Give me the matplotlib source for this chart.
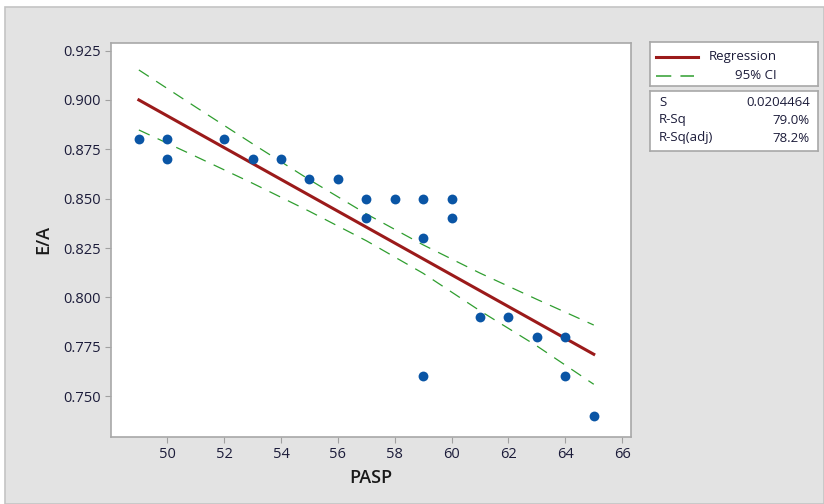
import numpy as np
import matplotlib
matplotlib.use("Agg")
from matplotlib import pyplot as plt
from matplotlib.patches import Rectangle

# data
pasp = [49, 50, 50, 52, 53, 54, 55, 56, 57, 57, 58, 59, 59, 59, 60, 60, 61, 62, 63, 64, 64, 65]
ea = [0.88, 0.88, 0.87, 0.88, 0.87, 0.87, 0.86, 0.86, 0.85, 0.84, 0.85, 0.85, 0.83, 0.76,
      0.85, 0.84, 0.79, 0.79, 0.78, 0.78, 0.76, 0.74]
# fitted line and 95% CI band
fit_x = [49, 65]
fit_y = [0.900, 0.7712]
ci_x = [49, 51, 53, 55, 57, 59, 61, 63, 65]
ci_upper = [0.9152, 0.8964, 0.8778, 0.8596, 0.8423, 0.8266, 0.8123, 0.7990, 0.7860]
ci_lower = [0.8848, 0.8714, 0.8578, 0.8436, 0.8287, 0.8122, 0.7932, 0.7754, 0.7560]
xticks = [50, 52, 54, 56, 58, 60, 62, 64, 66]
yticks = [0.750, 0.775, 0.800, 0.825, 0.850, 0.875, 0.900, 0.925]
stat_names = ["S", "R-Sq", "R-Sq(adj)"]
stat_values = ["0.0204464", "79.0%", "78.2%"]

plt.rcParams['font.family'] = ['Open Sans', 'DejaVu Sans']
txt = '#1c1c3a'
red = '#9b1a1a'
green = '#2f9e2f'
W, H = 824, 504

fig = plt.figure(figsize=(W/100, H/100), dpi=100)
fig.patch.set_facecolor('white')
fig.add_artist(Rectangle((5/W, 0), 1 - 5/W, 1 - 7/H, transform=fig.transFigure,
                         facecolor='#e3e3e3', edgecolor='#c4c4c4', lw=1.2, zorder=-10))

ax = fig.add_axes([111/W, 1 - 437/H, 520/W, (437 - 42.7)/H])
ax.set_facecolor('white')
ax.plot(fit_x, fit_y, color=red, lw=2.2, zorder=3)
ax.plot(ci_x, ci_upper, color=green, lw=0.9, dashes=(9.5, 7), zorder=2)
ax.plot(ci_x, ci_lower, color=green, lw=0.9, dashes=(9.5, 7), zorder=2)
ax.scatter(pasp, ea, s=50, color='#0a55a5', zorder=4, linewidths=0)

ax.set_xlim(48.02, 66.31)
ax.set_ylim(0.7293, 0.929)
ax.set_xticks(xticks)
ax.set_yticks(yticks)
ax.set_yticklabels([f"{v:.3f}" for v in yticks])
ax.tick_params(colors='#a0a0a0', labelcolor=txt, labelsize=10.5, length=4, width=0.8)
for sp in ax.spines.values():
  sp.set_color('#a8a8a8')
  sp.set_linewidth(1.2)
ax.set_xlabel('PASP', fontsize=13, fontweight='semibold', color='#1a1a1a', labelpad=5)
ax.set_ylabel('E/A', fontsize=13, fontweight='semibold', color='#1a1a1a', labelpad=8)

# legend box
lg = fig.add_axes([650/W, 1 - 85.7/H, 168/W, 43.4/H])
lg.set_xlim(0, 168)
lg.set_ylim(43.4, 0)
lg.set_xticks([])
lg.set_yticks([])
for sp in lg.spines.values():
  sp.set_color('#a8a8a8')
  sp.set_linewidth(1.2)
lg.plot([6, 48], [14.4, 14.4], color=red, lw=2.2)
lg.plot([6, 44], [33.4, 33.4], color=green, lw=1.1, dashes=(10, 6))
lg.text(127, 14.4, 'Regression', ha='right', va='center', fontsize=9.5, color=txt)
lg.text(127, 33.4, '95% CI', ha='right', va='center', fontsize=9.5, color=txt)

# stats box
st = fig.add_axes([650/W, 1 - 151/H, 168/W, 60/H])
st.set_xlim(0, 168)
st.set_ylim(60, 0)
st.set_xticks([])
st.set_yticks([])
for sp in st.spines.values():
  sp.set_color('#a8a8a8')
  sp.set_linewidth(1.2)
for i, (name, val) in enumerate(zip(stat_names, stat_values)):
  yy = 11 + 18*i
  st.text(9, yy, name, ha='left', va='center', fontsize=9.5, color=txt)
  st.text(160, yy, val, ha='right', va='center', fontsize=9.5, color=txt)

fig.savefig('out.png', dpi=100)
